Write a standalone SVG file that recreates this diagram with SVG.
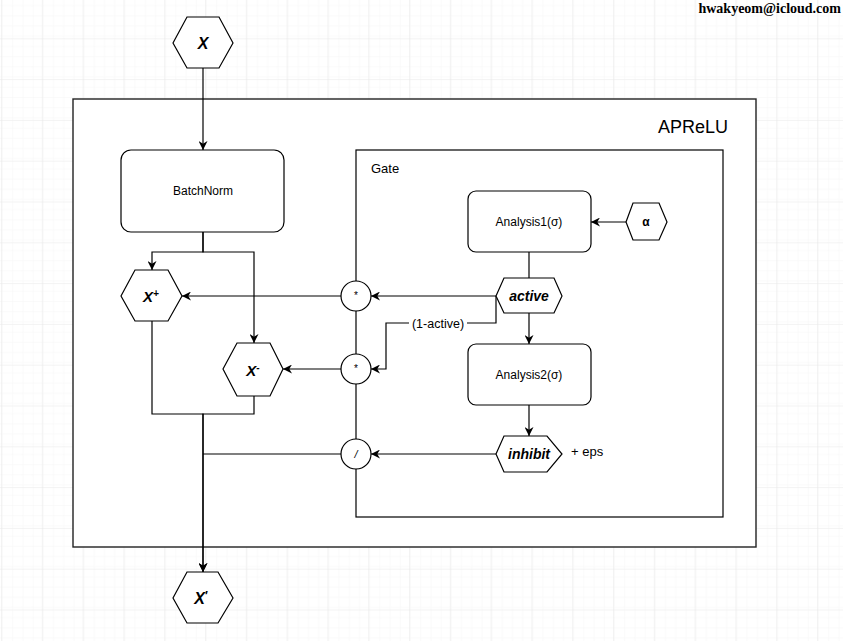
<svg xmlns="http://www.w3.org/2000/svg" width="843" height="641" viewBox="0 0 843 641">
  <defs>
    <pattern id="minor" width="10.2" height="10.2" patternUnits="userSpaceOnUse" x="1" y="-2.5">
      <path d="M0,0 H10.2 M0,0 V10.2" fill="none" stroke="#f5f5f5" stroke-width="1"/>
    </pattern>
    <pattern id="major" width="40.8" height="40.8" patternUnits="userSpaceOnUse" x="1" y="-2.5">
      <rect width="40.8" height="40.8" fill="url(#minor)"/>
      <path d="M0,0 H40.8 M0,0 V40.8" fill="none" stroke="#e8e8e8" stroke-width="1"/>
    </pattern>
    <marker id="arr" viewBox="0 0 10 10" refX="10" refY="5" markerWidth="9" markerHeight="9" markerUnits="userSpaceOnUse" orient="auto">
      <path d="M0,0 L10,5 L0,10 L3,5 Z" fill="#000"/>
    </marker>
  </defs>
  <style>
    .ln { fill: none; stroke: #000; stroke-width: 1.2; }
    .box { fill: #fff; stroke: #000; stroke-width: 1.2; }
    .cont { fill: #fff; stroke: #222; stroke-width: 1.4; }
    .t { font-family: "Liberation Sans", Arial, sans-serif; fill: #000; text-anchor: middle; }
    .bi { font-weight: bold; font-style: italic; }
  </style>
  <rect width="843" height="641" fill="#fff"/>
  <rect width="843" height="641" fill="url(#major)"/>

  <text x="841" y="13" font-family="Liberation Serif, Times New Roman, serif" font-weight="bold" font-size="14" text-anchor="end" fill="#000">hwakyeom@icloud.com</text>

  <g id="aprelu">
    <rect class="cont" x="73" y="99" width="683" height="448"/>
    <text class="t" x="693" y="133" font-size="18">APReLU</text>
  </g>
  <g id="gate">
    <rect class="box" x="356" y="150" width="367" height="367"/>
    <text class="t" x="371" y="173" font-size="13" style="text-anchor:start">Gate</text>
  </g>

  <g id="connectors">
    <path class="ln" d="M203,68 V150" marker-end="url(#arr)"/>
    <path class="ln" d="M203,232 V252 H152 V270" marker-end="url(#arr)"/>
    <path class="ln" d="M203,232 V252 H254 V343" marker-end="url(#arr)"/>
    <path class="ln" d="M626,222 H591" marker-end="url(#arr)"/>
    <path class="ln" d="M529,252 V278"/>
    <path class="ln" d="M496,296 H371" marker-end="url(#arr)"/>
    <path class="ln" d="M341,296 H182" marker-end="url(#arr)"/>
    <path class="ln" d="M496,296 V323 H386 V369 H371" marker-end="url(#arr)"/>
    <path class="ln" d="M341,369 H283" marker-end="url(#arr)"/>
    <path class="ln" d="M529,313 V344" marker-end="url(#arr)"/>
    <path class="ln" d="M529,405 V436" marker-end="url(#arr)"/>
    <path class="ln" d="M496,454 H371" marker-end="url(#arr)"/>
    <path class="ln" d="M152,321 V414 H203 V572" marker-end="url(#arr)"/>
    <path class="ln" d="M254,396 V414 H203 V572" marker-end="url(#arr)"/>
    <path class="ln" d="M341,454 H203"/>
    <rect x="409" y="315" width="58" height="16" fill="#fff"/>
    <text class="t" x="438" y="328" font-size="12.5">(1-active)</text>
  </g>

  <g id="x-in">
    <polygon class="box" points="187,17 219,17 233,43 219,68 187,68 173,43"/>
    <text class="t bi" x="203" y="49" font-size="16">X</text>
  </g>
  <g id="batchnorm">
    <rect class="box" x="121" y="150" width="163" height="82" rx="10"/>
    <text class="t" x="203" y="195" font-size="12">BatchNorm</text>
  </g>
  <g id="x-plus">
    <polygon class="box" points="135,270 168,270 182,296 168,321 135,321 121,296"/>
    <text class="t bi" x="151" y="302" font-size="15">X<tspan font-size="10" dy="-5">+</tspan></text>
  </g>
  <g id="x-minus">
    <polygon class="box" points="237,343 270,343 283,369 270,396 237,396 223,369"/>
    <text class="t bi" x="253" y="376" font-size="15">X<tspan font-size="10" dy="-5">-</tspan></text>
  </g>
  <g id="mul1">
    <circle class="box" cx="356" cy="296" r="15"/>
    <text class="t" x="356" y="299" font-size="10">*</text>
  </g>
  <g id="mul2">
    <circle class="box" cx="356" cy="369" r="15"/>
    <text class="t" x="356" y="372" font-size="10">*</text>
  </g>
  <g id="div">
    <circle class="box" cx="356" cy="454" r="15"/>
    <text class="t" x="356" y="458" font-size="11" font-style="italic">/</text>
  </g>
  <g id="analysis1">
    <rect class="box" x="468" y="191" width="123" height="61" rx="8"/>
    <text class="t" x="529" y="226" font-size="12">Analysis1(σ)</text>
  </g>
  <g id="alpha">
    <polygon class="box" points="633,203 659,203 667,222 659,240 633,240 626,222"/>
    <text class="t" x="646" y="226" font-size="12" font-weight="bold">α</text>
  </g>
  <g id="active">
    <polygon class="box" points="504,278 554,278 562,296 554,313 504,313 496,296"/>
    <text class="t bi" x="529" y="301" font-size="14">active</text>
  </g>
  <g id="analysis2">
    <rect class="box" x="468" y="344" width="123" height="61" rx="8"/>
    <text class="t" x="529" y="379" font-size="12">Analysis2(σ)</text>
  </g>
  <g id="inhibit">
    <polygon class="box" points="504,436 547,436 562,454 547,472 504,472 496,454"/>
    <text class="t bi" x="529" y="459" font-size="14">inhibit</text>
    <text class="t" x="571" y="456" font-size="13" style="text-anchor:start">+ eps</text>
  </g>
  <g id="x-out">
    <polygon class="box" points="187,572 218,572 233,598 218,623 187,623 173,598"/>
    <text class="t bi" x="201" y="604" font-size="16">X<tspan font-size="12" dy="-4" font-style="normal">′</tspan></text>
  </g>
</svg>
